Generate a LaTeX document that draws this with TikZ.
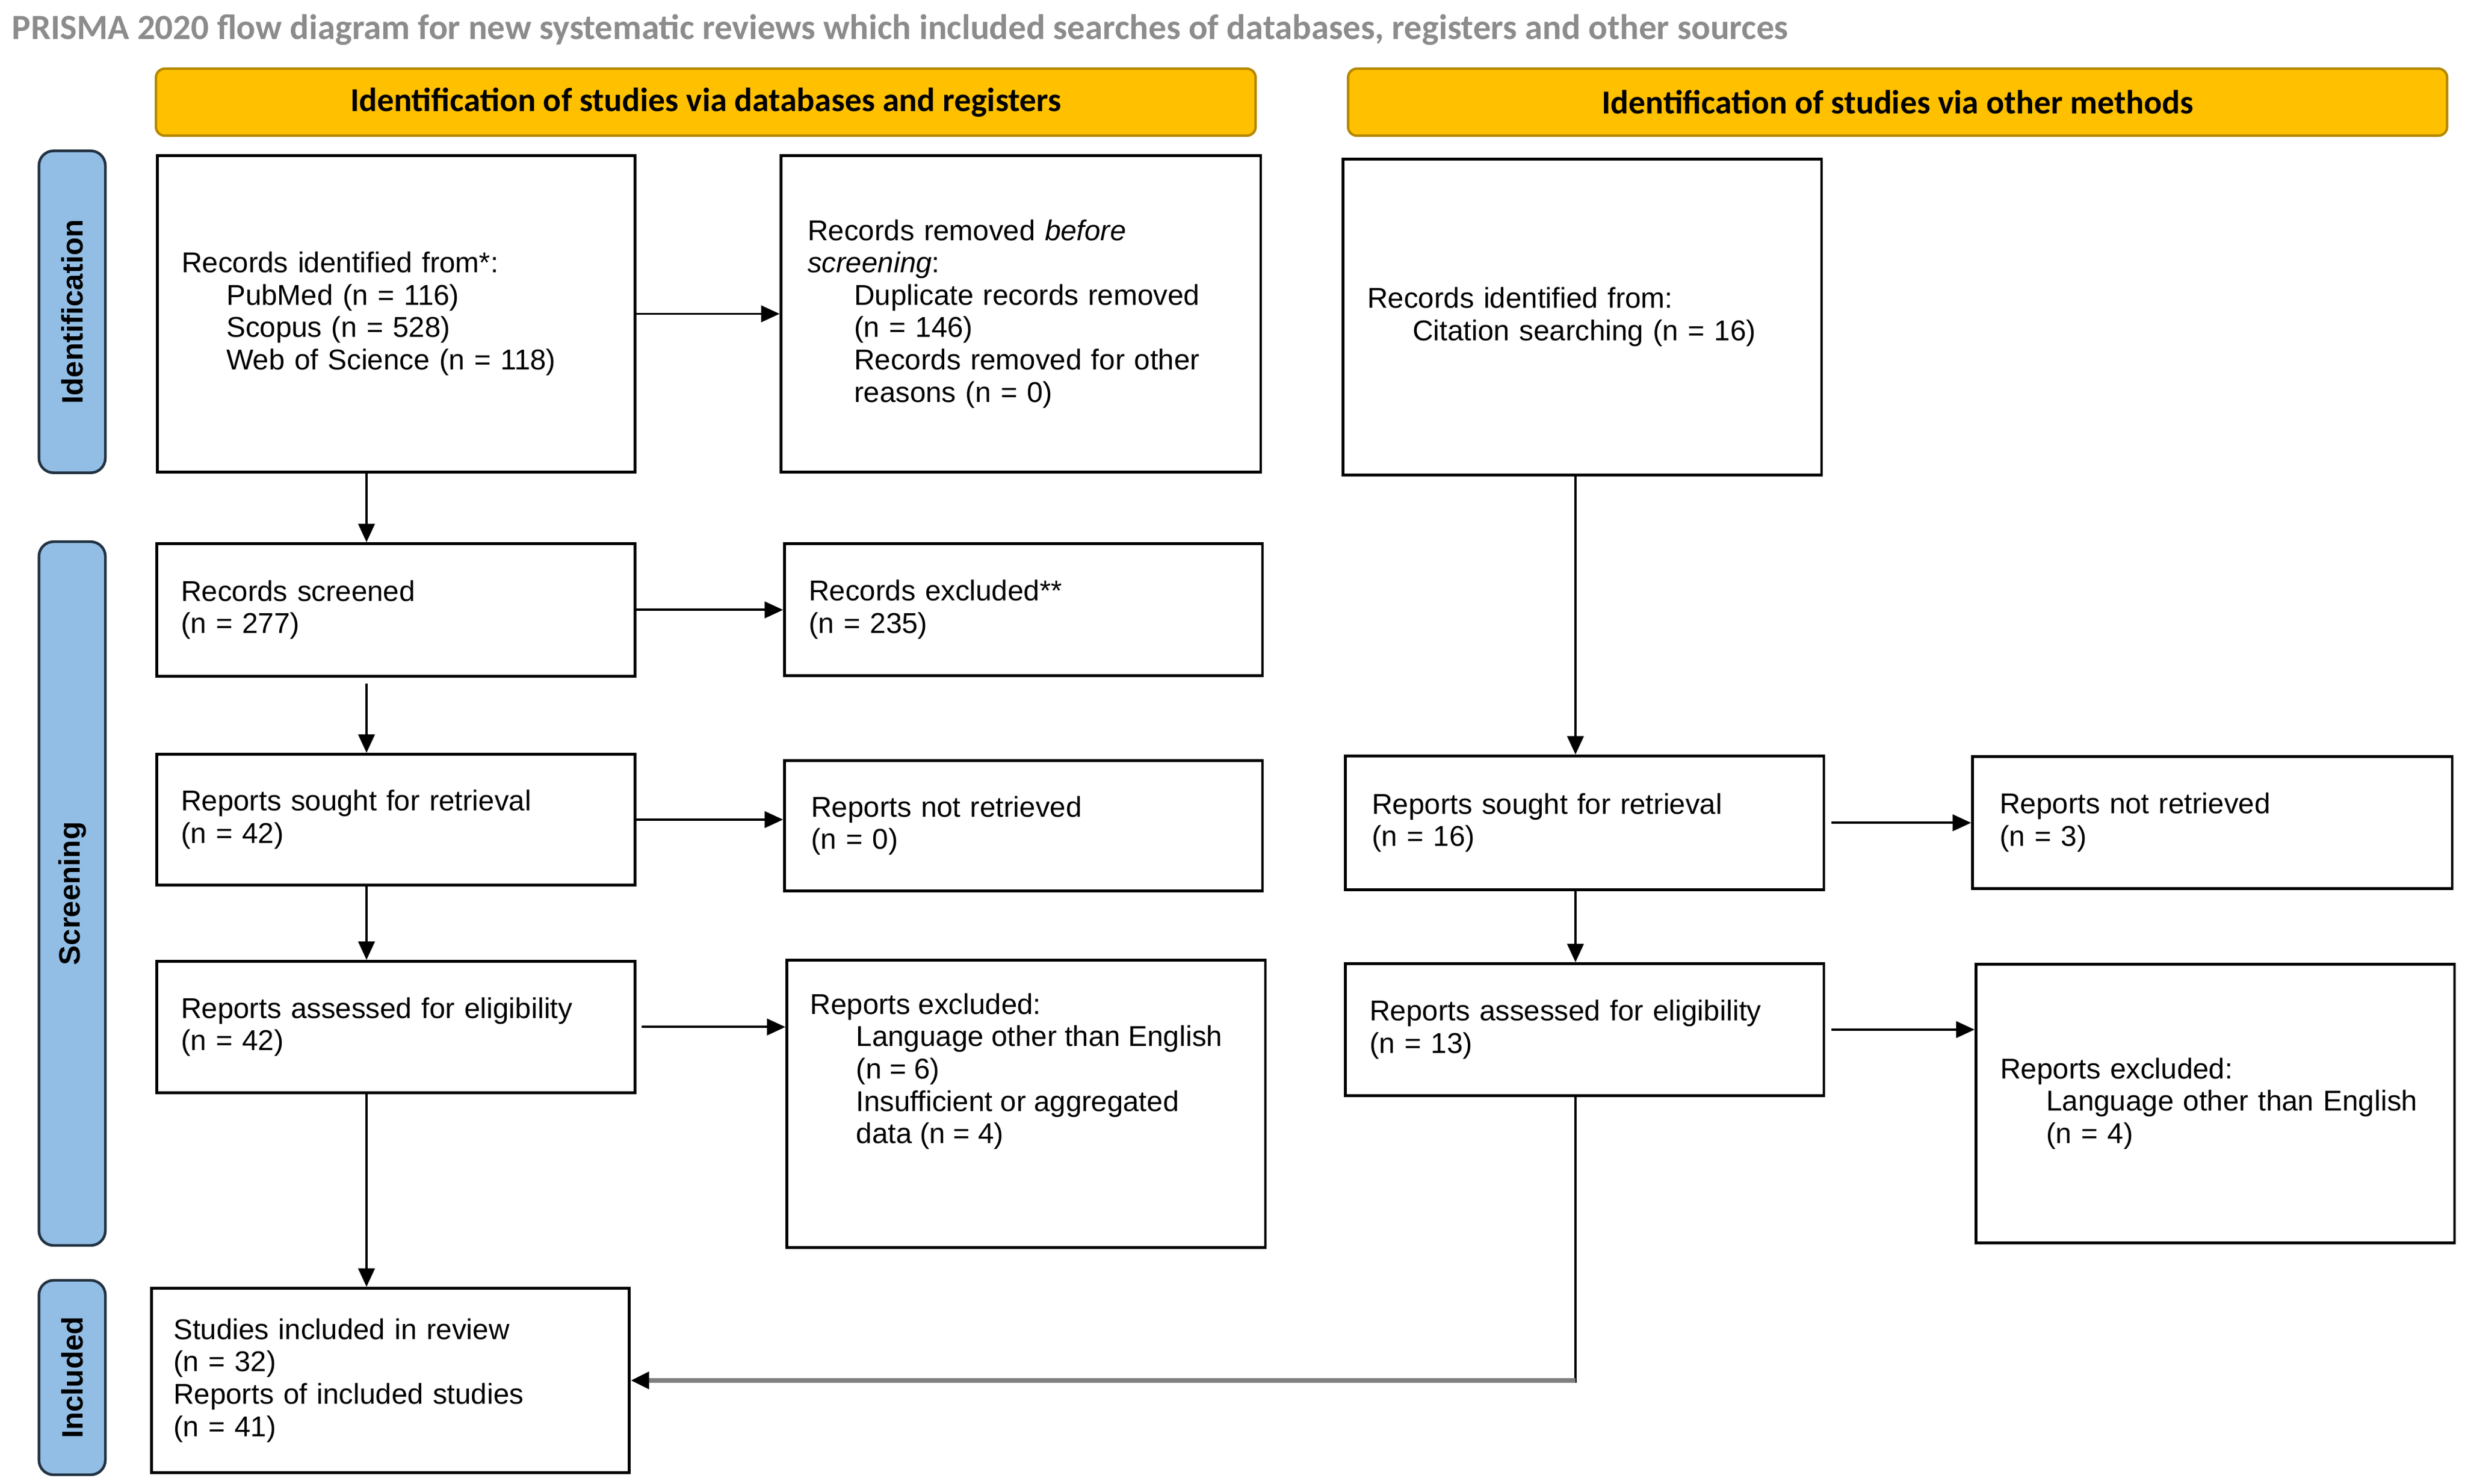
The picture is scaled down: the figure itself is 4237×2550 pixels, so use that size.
\documentclass[tikz,border=0pt]{standalone}
\usepackage{fontspec}
\setmainfont{Liberation Sans}
\newfontfamily\calib{Carlito}
\usetikzlibrary{arrows.meta,calc}
\definecolor{hdrfill}{RGB}{255,192,0}
\definecolor{hdrline}{RGB}{180,136,0}
\definecolor{sidefill}{RGB}{146,190,230}
\definecolor{sideline}{RGB}{35,50,65}
\definecolor{titlegray}{RGB}{140,140,140}
\definecolor{linkgray}{RGB}{128,128,128}
\begin{document}
\begin{tikzpicture}[x=0.01cm,y=-0.01cm,
  box/.style={draw=black,line width=1.3pt,fill=white,rectangle,anchor=north west,
    inner xsep=0.42cm,inner ysep=0pt,align=left,
    font=\fontsize{14pt}{15.8pt}\selectfont},
  bwh/.style 2 args={minimum width=#1,text width=#2},
  hdr/.style={draw=hdrline,fill=hdrfill,line width=1.2pt,rounded corners=0.15cm,
    anchor=north west,inner sep=0pt,minimum height=1.15cm,
    font=\calib\bfseries\fontsize{16.4pt}{19pt}\selectfont},
  side/.style={draw=sideline,fill=sidefill,line width=1.3pt,rounded corners=0.25cm,
    rotate=90,inner sep=0pt,minimum height=1.14cm,
    font=\bfseries\fontsize{14.5pt}{16pt}\selectfont},
  arr/.style={-{Triangle[length=9pt,width=8pt]},line width=1.1pt,black}
]
\useasboundingbox[fill=white] (0,0) rectangle (4237,2550);

% title
\node[anchor=base west,inner sep=0pt,text=titlegray,
  font=\calib\bfseries\fontsize{17.3pt}{20pt}\selectfont] (title) at (20,67)
  {PRISMA 2020 flow diagram for new systematic reviews which included searches of databases, registers and other sources};

% headers
\node[hdr,minimum width=18.89cm] (hdrA) at (266,116) {Identification of studies via databases and registers};
\node[hdr,minimum width=18.88cm] (hdrB) at (2315,116) {Identification of studies via other methods};

% side bars
\node[side,minimum width=5.53cm] (sideI) at (124,536) {Identification};
\node[side,minimum width=12.09cm] (sideS) at (124,1536) {Screening};
\node[side,minimum width=3.34cm] (sideN) at (124,2368) {Included};

% boxes
\node[box,bwh={8.21cm}{7.37cm},minimum height=5.44cm] (A) at (268,265)
 {Records identified from*:\\
  \hspace*{0.77cm}PubMed (n = 116)\\
  \hspace*{0.77cm}Scopus (n = 528)\\
  \hspace*{0.77cm}Web of Science (n = 118)};
\node[box,inner xsep=0.46cm,bwh={8.24cm}{7.32cm},minimum height=5.44cm] (B) at (1340,265)
 {Records removed \textit{before}\\
  \textit{screening}:\\
  \hspace*{0.80cm}Duplicate records removed\\
  \hspace*{0.80cm}(n = 146)\\
  \hspace*{0.80cm}Records removed for other\\
  \hspace*{0.80cm}reasons (n = 0)};
\node[box,bwh={8.22cm}{7.38cm},minimum height=5.43cm] (C) at (2306,271)
 {Records identified from:\\
  \hspace*{0.78cm}Citation searching (n = 16)};

\node[box,bwh={8.22cm}{7.38cm},minimum height=2.28cm] (D) at (267,932)
 {Records screened\\(n = 277)};
\node[box,bwh={8.21cm}{7.37cm},minimum height=2.27cm] (E) at (1346,932)
 {Records excluded**\\(n = 235)};

\node[box,bwh={8.22cm}{7.38cm},minimum height=2.25cm] (F) at (267,1294)
 {Reports sought for retrieval\\(n = 42)};
\node[box,inner xsep=0.46cm,bwh={8.21cm}{7.29cm},minimum height=2.24cm] (G) at (1346,1305)
 {Reports not retrieved\\(n = 0)};
\node[box,inner xsep=0.46cm,bwh={8.22cm}{7.30cm},minimum height=2.30cm] (H) at (2310,1297)
 {Reports sought for retrieval\\(n = 16)};
\node[box,inner xsep=0.47cm,bwh={8.24cm}{7.30cm},minimum height=2.27cm] (I) at (3388,1298)
 {Reports not retrieved\\(n = 3)};

\node[box,bwh={8.22cm}{7.38cm},minimum height=2.26cm] (J) at (267,1650)
 {Reports assessed for eligibility\\(n = 42)};
\node[box,bwh={8.22cm}{7.38cm},minimum height=4.94cm] (K) at (1350,1648) {};
\node[anchor=north west,inner sep=0pt,align=left,
  font=\fontsize{14pt}{15.8pt}\selectfont] (Ktext) at (1392,1707)
 {Reports excluded:\\
  \hspace*{0.79cm}Language other than English\\
  \hspace*{0.79cm}(n = 6)\\
  \hspace*{0.79cm}Insufficient or aggregated\\
  \hspace*{0.79cm}data (n = 4)};
\node[box,bwh={8.22cm}{7.38cm},minimum height=2.27cm] (L) at (2310,1654)
 {Reports assessed for eligibility\\(n = 13)};
\node[box,bwh={8.22cm}{7.38cm},minimum height=4.79cm] (M) at (3394,1655)
 {Reports excluded:\\
  \hspace*{0.79cm}Language other than English\\
  \hspace*{0.79cm}(n = 4)};

\node[box,inner xsep=0.38cm,bwh={8.21cm}{7.45cm},minimum height=3.17cm] (N) at (258,2212)
 {Studies included in review\\(n = 32)\\Reports of included studies\\(n = 41)};

% connector columns
\coordinate (lx) at (630,0);
\coordinate (rx) at (2708,0);

\draw[arr] (A.south -| lx) -- (D.north -| lx);
\draw[arr] (A.east) -- (A.east -| B.west);
\draw[arr] (D.east) -- (D.east -| E.west);
\draw[arr,shorten <=3pt] (D.south -| lx) -- (F.north -| lx);
\draw[arr] (F.east) -- (F.east -| G.west);
\draw[arr] (F.south -| lx) -- (J.north -| lx);
\draw[arr,shorten <=2.5pt] (J.east) -- (J.east -| K.west);
\draw[arr] (J.south -| lx) -- (N.north -| lx);

\draw[arr] (C.south -| rx) -- (H.north -| rx);
\draw[arr,shorten <=3pt] (H.east) -- (H.east -| I.west);
\draw[arr] (H.south -| rx) -- (L.north -| rx);
\draw[arr,shorten <=3pt] (L.east) -- (L.east -| M.west);

\coordinate (corner) at (rx |- N.east);
\draw[line width=1.1pt,black] (L.south -| rx) -- ([yshift=-1.2pt]corner);
\draw[-{Triangle[length=9pt,width=8pt,color=black]},line width=2.3pt,linkgray] (corner) -- (N.east);
\end{tikzpicture}
\end{document}
